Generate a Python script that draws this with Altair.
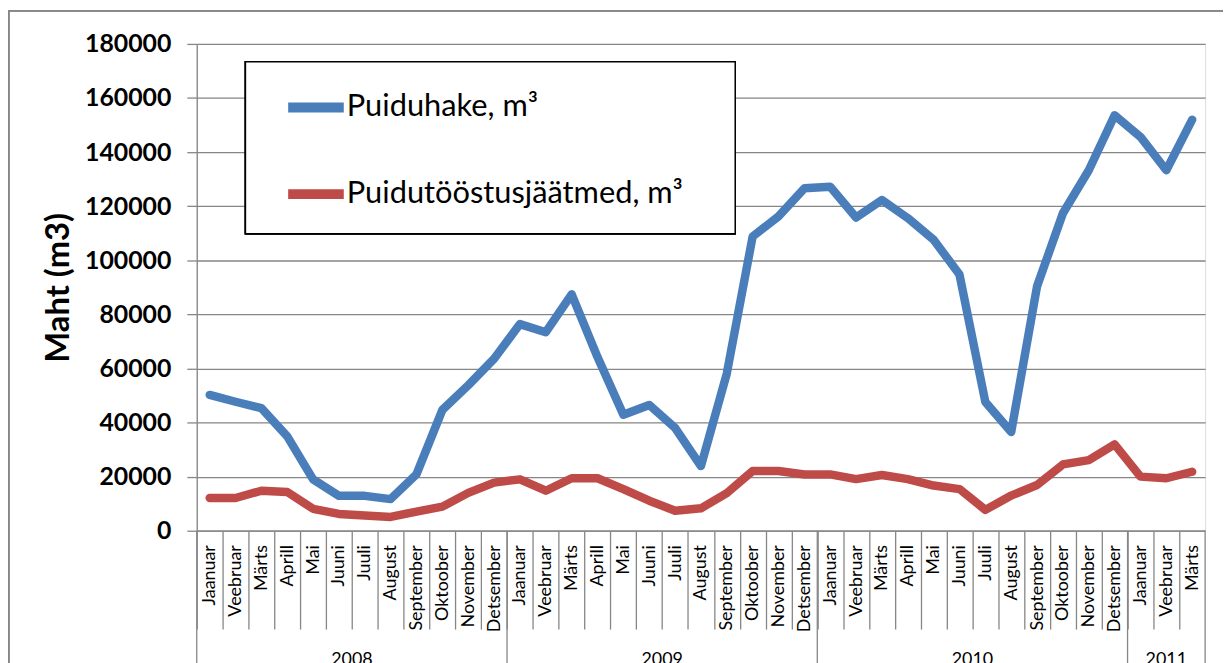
import altair as alt
import pandas as pd

# ---------------- data ----------------
months = ["Jaanuar", "Veebruar", "Märts", "Aprill", "Mai", "Juuni", "Juuli",
          "August", "September", "Oktoober", "November", "Detsember"]
years = ["2008", "2009", "2010", "2011"]
year_month_counts = [12, 12, 12, 3]
month_labels = months * 3 + months[:3]

series_names = ["Puiduhake, m³", "Puidutööstusjäätmed, m³"]
series_colors = ["#4A7EBB", "#BE4B48"]

puiduhake = [50200, 47700, 45300, 34900, 19000, 12900, 12900, 11700, 20900, 44700, 53800, 63600,
             76400, 73400, 87400, 64200, 42900, 46500, 38000, 23900, 58100, 108800, 116200, 126600,
             127200, 115800, 122300, 115600, 107600, 94700, 47600, 36500, 90400, 117400, 133300, 153600,
             145600, 133300, 152000]
jaatmed = [12100, 12100, 14800, 14300, 8100, 6200, 5600, 5100, 7100, 8900, 14000, 17800,
           19000, 14800, 19400, 19400, 15400, 11100, 7400, 8300, 13900, 22100, 22100, 20800,
           20800, 19100, 20600, 19100, 16700, 15400, 7700, 13000, 16900, 24500, 26100, 31900,
           20000, 19400, 21800]
y_ticks = [0, 20000, 40000, 60000, 80000, 100000, 120000, 140000, 160000, 180000]

# ---------------- layout ----------------
W, H = 1015, 490
n = len(month_labels)
step = W / n
GRAY = "#868686"

rows = []
for i in range(n):
    rows.append({"pos": i + 0.5, "series": series_names[0], "value": puiduhake[i]})
    rows.append({"pos": i + 0.5, "series": series_names[1], "value": jaatmed[i]})
df = pd.DataFrame(rows)

starts, s = [], 0
for c in year_month_counts:
    starts.append(s)
    s += c
year_df = pd.DataFrame({
    "year": years,
    "mid": [st + c / 2 for st, c in zip(starts, year_month_counts)],
})
bound_df = pd.DataFrame({"b": starts + [n]})

label_expr = "[" + ",".join("'%s'" % m for m in month_labels) + "][datum.value]"
xscale = alt.Scale(domain=[0, n], nice=False, zero=False)
x_axis = alt.Axis(values=list(range(n)), labelExpr=label_expr, labelAngle=-90,
                  labelAlign="right", labelBaseline="middle",
                  labelOffset=step / 2, labelFlush=False, labelOverlap=False,
                  labelBound=False, labelFont="Lato", labelFontSize=18,
                  labelColor="#000000", labelPadding=14 - 99,
                  grid=False, tickSize=99, tickColor=GRAY, tickWidth=1.3,
                  domainColor=GRAY, domainWidth=1.3)

# legend placement (pixels relative to the plot's top-left corner)
LEG_X, LEG_Y, LEG_W, LEG_H = 49, 18, 493, 173

lines = alt.Chart(df).mark_line(strokeWidth=8.5, strokeJoin="round", strokeCap="round").encode(
    x=alt.X("pos:Q", scale=xscale, title=None, axis=x_axis),
    y=alt.Y("value:Q", scale=alt.Scale(domain=[0, 180000], nice=False),
            title="Maht (m3)",
            axis=alt.Axis(values=y_ticks, format="d", labelFont="Lato", labelFontSize=25,
                          labelFontWeight="bold", labelColor="#000000", labelPadding=16,
                          tickSize=10, tickColor=GRAY, tickWidth=1.3,
                          domainColor=GRAY, domainWidth=1.3,
                          grid=True, gridColor=GRAY, gridWidth=1.3,
                          titleFont="Lato", titleFontSize=33, titleFontWeight="bold",
                          titleColor="#000000", titlePadding=9)),
    color=alt.Color("series:N", sort=series_names,
                    scale=alt.Scale(domain=series_names, range=series_colors),
                    legend=alt.Legend(title=None, orient="none", legendX=LEG_X, legendY=LEG_Y - 3,
                                      direction="vertical", padding=21,
                                      symbolType="M-1.217,0H1.217", symbolSize=2116,
                                      symbolStrokeWidth=10, symbolOffset=22,
                                      labelOffset=3, labelFont="Lato", labelFontSize=31,
                                      labelColor="#000000", labelLimit=0, rowPadding=39.2)),
)

legend_box = alt.Chart(year_df).mark_rect(fill="white", stroke="black", strokeWidth=1.5).encode(
    x=alt.value(LEG_X), x2=alt.value(LEG_X + LEG_W),
    y=alt.value(LEG_Y), y2=alt.value(LEG_Y + LEG_H),
)

year_rules = alt.Chart(bound_df).mark_rule(color=GRAY, strokeWidth=1.3).encode(
    x=alt.X("b:Q", scale=xscale, title=None, axis=x_axis),
    y=alt.value(H),
    y2=alt.value(H + 200),
)

year_text = alt.Chart(year_df).mark_text(font="Lato", fontSize=18, color="#000000",
                                         baseline="top", align="center").encode(
    x=alt.X("mid:Q", scale=xscale, title=None, axis=x_axis),
    y=alt.value(H + 121),
    text="year:N",
)

frame = alt.Chart(year_df).mark_rect(fill=None, stroke=GRAY, strokeWidth=1.5).encode(
    x=alt.value(-189.3),
    x2=alt.value(W + 200),
    y=alt.value(-33.3),
    y2=alt.value(H + 300),
)

chart = alt.layer(lines, legend_box, year_rules, year_text, frame).properties(
    width=W, height=H,
    autosize=alt.AutoSizeParams(type="none"),
    padding={"left": 190, "top": 34, "right": 18, "bottom": 131},
).configure_view(stroke=None).configure(font="Lato")

chart.save("out.html", embed_options={"renderer": "svg", "actions": False})
